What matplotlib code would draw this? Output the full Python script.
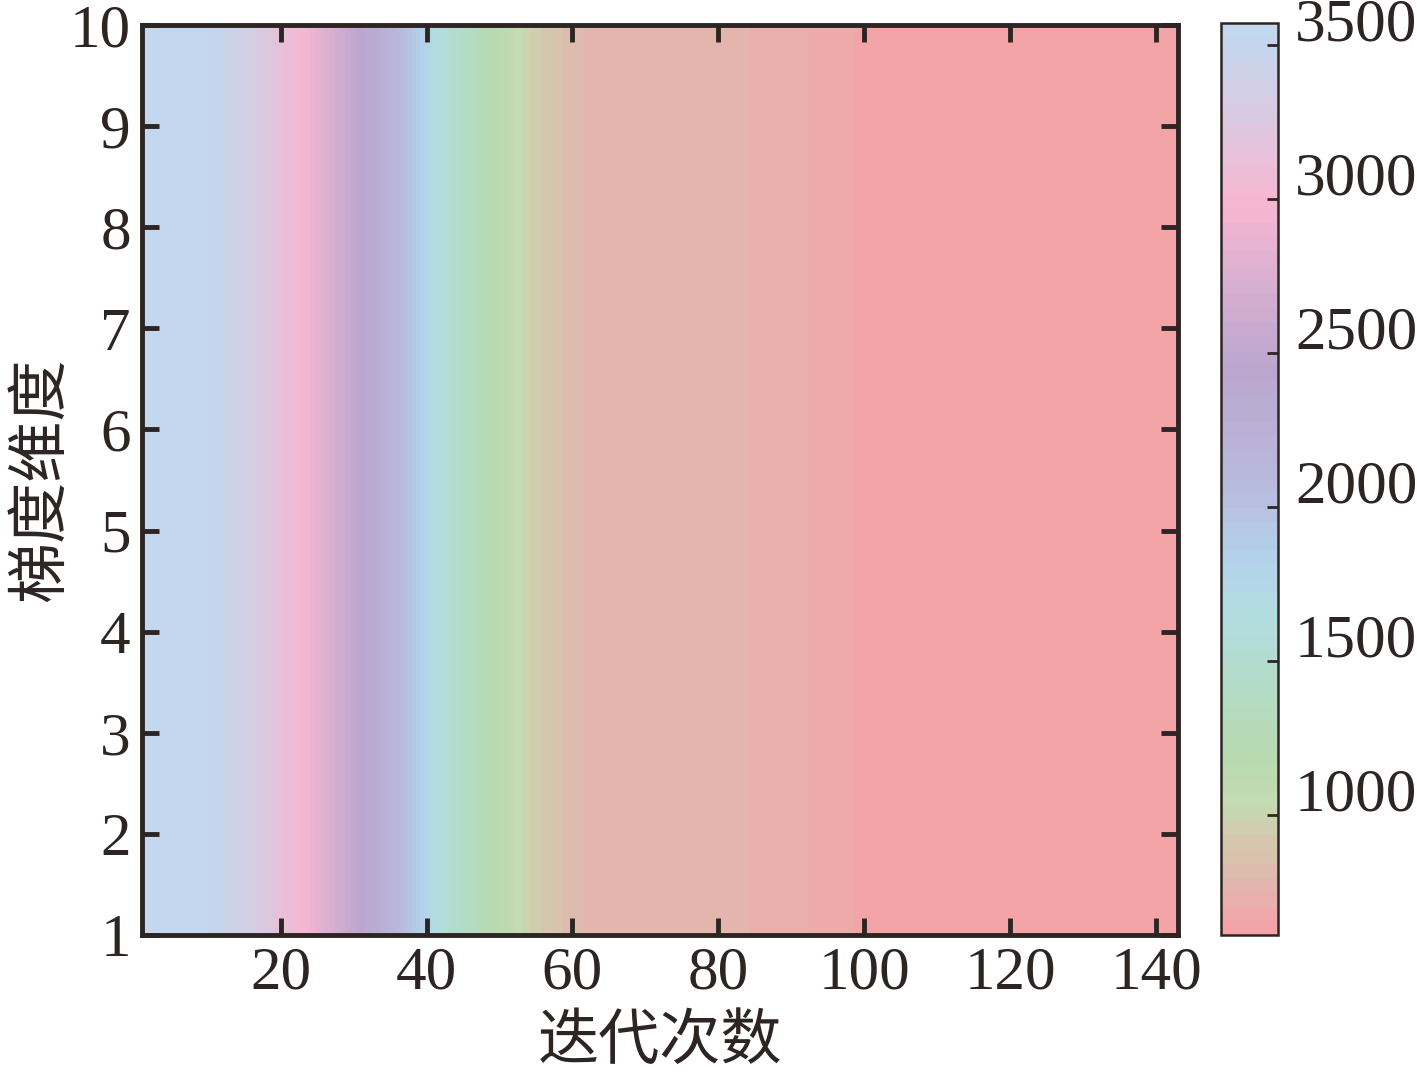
import numpy as np
import matplotlib
matplotlib.use('Agg')
import matplotlib.pyplot as plt
from matplotlib.colors import LinearSegmentedColormap
from matplotlib import transforms

# loss value along iterations (same for every gradient dimension)
iters = [1, 11, 13, 17, 20, 23, 27, 31, 36, 40, 42, 45, 49, 53, 55, 57, 59,
         62, 84, 86, 92, 94, 98, 100, 143]
loss = [3560, 3520, 3440, 3300, 3150, 2990, 2720, 2450, 2120, 1780, 1620,
        1420, 1200, 1030, 950, 900, 830, 790, 752, 735, 705, 690, 660, 650, 615]
dims = [1, 10]

x_ticks = [20, 40, 60, 80, 100, 120, 140]
y_ticks = [1, 2, 3, 4, 5, 6, 7, 8, 9, 10]
cb_ticks = [1000, 1500, 2000, 2500, 3000, 3500]

# colormap anchors
cmap_vals = [610, 680, 735, 790, 845, 950, 1030, 1200, 1400, 1650, 1820,
             2100, 2450, 2700, 2990, 3300, 3500, 3570]
cmap_cols = ['#f4a1a6', '#eeaaa8', '#e8b0aa', '#e0b8ad', '#dbbfad', '#d2ccb0',
             '#c4dbb0', '#b8d9b0', '#b2dcc4', '#b2dde0', '#b3d3eb', '#b9b8dc',
             '#bba6cf', '#d4aed0', '#f7b6d2', '#d8cbe2', '#c6d6ec', '#c3d8ee']

vmin, vmax = cmap_vals[0], cmap_vals[-1]
pos = [(v - vmin) / (vmax - vmin) for v in cmap_vals]
cmap = LinearSegmentedColormap.from_list('loss', list(zip(pos, cmap_cols)))

plt.rcParams['font.family'] = ['Liberation Serif', 'Noto Sans CJK SC']
dark = '#2d2523'

fig = plt.figure(figsize=(14.17, 10.76), dpi=100)
ax = fig.add_axes([0.1002, 0.1310, 0.7311, 0.8458])
cax = fig.add_axes([0.8617, 0.1310, 0.0402, 0.8476])

X, Y = np.meshgrid(iters, dims)
Z = np.tile(loss, (len(dims), 1))
levels = np.linspace(vmin, vmax, 65)
cs = ax.contourf(X, Y, Z, levels=levels, cmap=cmap)

ax.set_xlim(1, 143)
ax.set_ylim(1, 10)
ax.set_xticks(x_ticks)
ax.set_yticks(y_ticks)
ax.tick_params(direction='in', length=12, width=3.5, color=dark,
               labelsize=44, labelcolor=dark, top=True, right=True, pad=8)
for s in ax.spines.values():
    s.set_linewidth(3.5)
    s.set_color(dark)
ax.set_xlabel('迭代次数', fontsize=44, color=dark, labelpad=6,
              family=['Noto Sans CJK SC'])
ax.set_ylabel('梯度维度', fontsize=44, color=dark, labelpad=-2,
              family=['Noto Sans CJK SC'])

cb = fig.colorbar(cs, cax=cax, ticks=cb_ticks)
cb.outline.set_linewidth(1.8)
cb.outline.set_edgecolor(dark)
cax.tick_params(direction='in', length=8, width=2, color=dark,
                labelright=False, right=True)
off = transforms.ScaledTranslation(0, 0.19, fig.dpi_scale_trans)
for v in cb_ticks:
    cax.text(1.3, v, str(v), transform=cax.get_yaxis_transform() + off,
             ha='left', va='center', fontsize=44, color=dark)

fig.savefig('out.png', dpi=100)
